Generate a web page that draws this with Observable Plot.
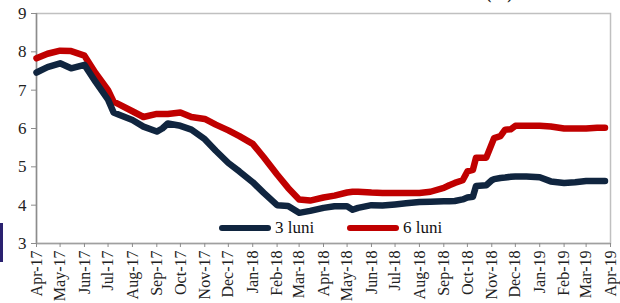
<!DOCTYPE html>
<html>
<head>
<meta charset="utf-8">
<script src="https://cdn.jsdelivr.net/npm/d3@7"></script>
<script src="https://cdn.jsdelivr.net/npm/@observablehq/plot@0.6"></script>
<style>
  html, body { margin: 0; padding: 0; background: #fff; }
  #wrap { position: relative; width: 620px; height: 303px; overflow: hidden; font-family: "Liberation Serif", "Times New Roman", serif; }
  #chart svg, #chart svg text { font-family: "Liberation Serif", "Times New Roman", serif !important; }
  #bar { position: absolute; left: 0; top: 223px; width: 3px; height: 39px; background: #2a2170; }
  #title { position: absolute; left: 486px; top: -15px; font-weight: bold; font-size: 16px; color: #222; }
  .leg { position: absolute; top: 218px; font-size: 17px; color: #111; display: flex; align-items: center; }
  .leg span.sw { display: inline-block; width: 52px; height: 6px; border-radius: 3px; margin-right: 4px; }
</style>
</head>
<body>
<div id="wrap">
  <div id="chart"></div>
  <div id="bar"></div>
  <div id="title">(%)</div>
  <div class="leg" style="left:219px"><span class="sw" style="background:#10253f"></span>3 luni</div>
  <div class="leg" style="left:347px"><span class="sw" style="background:#c00000"></span>6 luni</div>
</div>
<script>
const dates = [
  "2017-04-01","2017-04-15","2017-05-01","2017-05-15","2017-06-01","2017-06-15","2017-07-01","2017-07-08","2017-07-15","2017-08-01",
  "2017-08-15","2017-09-01","2017-09-08","2017-09-15","2017-10-01","2017-10-15","2017-11-01","2017-11-15","2017-12-01","2017-12-15",
  "2018-01-01","2018-01-15","2018-02-01","2018-02-15","2018-03-01","2018-03-15","2018-04-01","2018-04-15","2018-05-01","2018-05-08",
  "2018-05-15","2018-06-01","2018-06-15","2018-07-01","2018-07-15","2018-08-01","2018-08-15","2018-09-01","2018-09-08","2018-09-15",
  "2018-09-25","2018-10-01","2018-10-08","2018-10-12","2018-10-25","2018-11-01","2018-11-04","2018-11-12","2018-11-18","2018-11-25",
  "2018-12-01","2018-12-15","2019-01-01","2019-01-15","2019-02-01","2019-02-15","2019-03-01","2019-03-15","2019-03-25"
];
const luni3 = [
  7.46,7.60,7.70,7.57,7.66,7.22,6.75,6.42,6.36,6.22,
  6.05,5.92,6.00,6.13,6.07,5.97,5.72,5.42,5.10,4.88,
  4.60,4.32,4.00,3.98,3.80,3.85,3.93,3.97,3.97,3.88,
  3.93,4.00,3.99,4.02,4.05,4.08,4.09,4.10,4.10,4.11,
  4.15,4.20,4.22,4.50,4.52,4.65,4.68,4.71,4.72,4.74,
  4.75,4.75,4.73,4.62,4.58,4.60,4.63,4.63,4.63
];
const luni6 = [
  7.83,7.95,8.03,8.02,7.90,7.45,7.00,6.70,6.63,6.45,
  6.30,6.38,6.38,6.38,6.42,6.30,6.25,6.10,5.95,5.80,
  5.60,5.25,4.80,4.45,4.15,4.12,4.20,4.25,4.33,4.35,
  4.35,4.33,4.32,4.32,4.32,4.32,4.35,4.45,4.52,4.58,
  4.65,4.88,4.92,5.24,5.24,5.60,5.75,5.80,5.97,5.98,
  6.07,6.07,6.07,6.05,6.00,6.00,6.00,6.02,6.02
];
const yTicks = [3,4,5,6,7,8,9];
const xStart = "2017-04-01", xEnd = "2019-04-01";

const parse = d3.utcParse("%Y-%m-%d");
const rows3 = dates.map((d, i) => ({date: parse(d), v: luni3[i]}));
const rows6 = dates.map((d, i) => ({date: parse(d), v: luni6[i]}));
const xTicks = d3.utcMonth.range(parse(xStart), d3.utcDay.offset(parse(xEnd), 1));
const fmt = d3.utcFormat("%b-%y");

const chart = Plot.plot({
  width: 620,
  height: 303,
  marginLeft: 36,
  marginRight: 10,
  marginTop: 13,
  marginBottom: 60,
  style: {fontFamily: "Liberation Serif, serif", background: "#fff", overflow: "visible"},
  x: {type: "utc", domain: [parse(xStart), parse(xEnd)]},
  y: {domain: [3, 9]},
  marks: [
    Plot.frame({stroke: "#c0c0c0", strokeWidth: 1.5}),
    Plot.ruleX([parse(xStart)], {stroke: "#8c8c8c", strokeWidth: 1.5}),
    Plot.ruleY([3], {stroke: "#a0a0a0", strokeWidth: 1.5}),
    Plot.axisY({ticks: yTicks, tickSize: 5, tickPadding: 5, stroke: "#8c8c8c", fontSize: 17, fill: "#222", label: null, tickFormat: d => d}),
    Plot.axisX({ticks: xTicks, tickSize: 4, tickPadding: 3, tickRotate: -90, tickFormat: fmt, stroke: "#8c8c8c", fontSize: 16, fill: "#222", label: null}),
    Plot.line(rows6, {x: "date", y: "v", stroke: "#c00000", strokeWidth: 6.5, strokeLinejoin: "round", strokeLinecap: "round"}),
    Plot.line(rows3, {x: "date", y: "v", stroke: "#10253f", strokeWidth: 6.5, strokeLinejoin: "round", strokeLinecap: "round"})
  ]
});
document.getElementById("chart").appendChild(chart);
</script>
</body>
</html>
